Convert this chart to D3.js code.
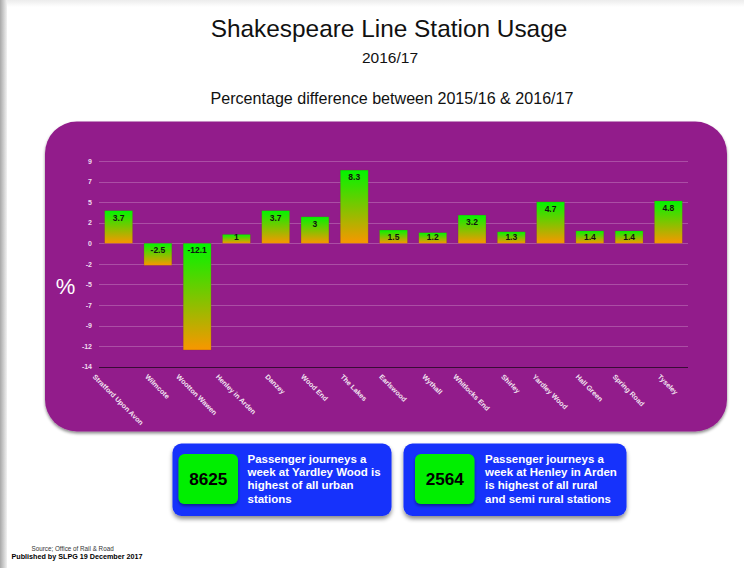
<!DOCTYPE html>
<html>
<head>
<meta charset="utf-8">
<script src="https://cdn.jsdelivr.net/npm/d3@7"></script>
<style>
  body { margin: 0; background: #fff; }
  svg { display: block; font-family: "Liberation Sans", Arial, sans-serif; }
</style>
</head>
<body>
<div class="contents"></div>
<script>
var stations = ["Stratford Upon Avon", "Wilmcote", "Wootton Wawen", "Henley in Arden",
    "Danzey", "Wood End", "The Lakes", "Earlswood", "Wythall", "Whitlocks End",
    "Shirley", "Yardley Wood", "Hall Green", "Spring Road", "Tyseley"];
var pctChange = [3.7, -2.5, -12.1, 1, 3.7, 3, 8.3, 1.5, 1.2, 3.2, 1.3, 4.7, 1.4, 1.4, 4.8];

// axis runs -14 .. 9.33 in ten even steps, the labels are rounded
var yDomain = [-14, 28 / 3];
var yTickLabels = ["-14", "-12", "-9", "-7", "-5", "-2", "0", "2", "5", "7", "9"];

var calloutNumbers = ["8625", "2564"];
var calloutLines = [
    ["Passenger journeys a", "week at Yardley Wood is", "highest of all urban", "stations"],
    ["Passenger journeys a", "week at Henley in Arden", "is highest of all rural", "and semi rural stations"]
];

var W = 744, H = 568;
var plot = { left: 99, right: 688, top: 161, bottom: 366.7 };

var svg = d3.select(".contents").append("svg")
    .attr("width", W)
    .attr("height", H);

var defs = svg.append("defs");

var barGrad = defs.append("linearGradient")
    .attr("id", "bar-grad")
    .attr("x1", 0).attr("y1", 0)
    .attr("x2", 0).attr("y2", 1);
barGrad.append("stop").attr("offset", "0%").attr("stop-color", "#00f500");
barGrad.append("stop").attr("offset", "100%").attr("stop-color", "#f99600");

var leftGrad = defs.append("linearGradient")
    .attr("id", "left-grad")
    .attr("x1", 0).attr("x2", 1).attr("y1", 0).attr("y2", 0);
leftGrad.append("stop").attr("offset", "0%").attr("stop-color", "#a8a8a8");
leftGrad.append("stop").attr("offset", "100%").attr("stop-color", "#f2f2f2");

var topGrad = defs.append("linearGradient")
    .attr("id", "top-grad")
    .attr("x1", 0).attr("x2", 0).attr("y1", 0).attr("y2", 1);
topGrad.append("stop").attr("offset", "0%").attr("stop-color", "#ececec");
topGrad.append("stop").attr("offset", "100%").attr("stop-color", "#ffffff");

function addShadow(id, dy, sd, op) {
    defs.append("filter")
        .attr("id", id)
        .attr("x", "-10%").attr("y", "-10%")
        .attr("width", "120%").attr("height", "130%")
        .append("feDropShadow")
        .attr("dx", 0).attr("dy", dy)
        .attr("stdDeviation", sd)
        .attr("flood-color", "#000")
        .attr("flood-opacity", op);
}
addShadow("panel-shadow", 2, 1.5, 0.45);
addShadow("box-shadow", 3, 2, 0.45);
addShadow("inner-shadow", 2, 1.5, 0.4);

// Page edges (slide screenshot look)
svg.append("rect")
    .attr("x", 0).attr("y", 0)
    .attr("width", W).attr("height", 7)
    .attr("fill", "url(#top-grad)");
svg.append("rect")
    .attr("x", 0).attr("y", 0)
    .attr("width", 7).attr("height", H)
    .attr("fill", "url(#left-grad)");

// Titles
svg.append("text")
    .attr("x", 389).attr("y", 37)
    .attr("text-anchor", "middle")
    .attr("font-size", 24.4)
    .attr("fill", "#111")
    .text("Shakespeare Line Station Usage");

svg.append("text")
    .attr("x", 390).attr("y", 63)
    .attr("text-anchor", "middle")
    .attr("font-size", 15.5)
    .attr("fill", "#111")
    .text("2016/17");

svg.append("text")
    .attr("x", 392).attr("y", 104)
    .attr("text-anchor", "middle")
    .attr("font-size", 16.1)
    .attr("fill", "#111")
    .text("Percentage difference between 2015/16 & 2016/17");

// Purple panel
svg.append("rect")
    .attr("x", 45).attr("y", 121.5)
    .attr("width", 682).attr("height", 310)
    .attr("rx", 32).attr("ry", 32)
    .attr("fill", "#921e8b")
    .attr("filter", "url(#panel-shadow)");

var x = d3.scaleBand()
    .domain(stations)
    .range([plot.left, plot.right])
    .paddingInner(0.29)
    .paddingOuter(0.145);

var y = d3.scaleLinear()
    .domain(yDomain)
    .range([plot.bottom, plot.top]);

var yTicks = yTickLabels.map(function(d, i) {
    return yDomain[0] + i * (yDomain[1] - yDomain[0]) / (yTickLabels.length - 1);
});

// Gridlines
svg.append("g")
    .attr("class", "grid")
    .selectAll("line")
    .data(yTicks.slice(1))
    .enter().append("line")
    .attr("x1", plot.left).attr("x2", plot.right)
    .attr("y1", function(d) { return Math.round(y(d)) + 0.5; })
    .attr("y2", function(d) { return Math.round(y(d)) + 0.5; })
    .attr("stroke", "#ab4ea5")
    .attr("stroke-width", 1);

// Y axis
var yAxis = d3.axisLeft(y)
    .tickValues(yTicks)
    .tickSize(0)
    .tickPadding(7)
    .tickFormat(function(d, i) { return yTickLabels[i]; });

var yg = svg.append("g")
    .attr("class", "y axis")
    .attr("transform", "translate(" + plot.left + ",0)")
    .call(yAxis);
yg.select(".domain").remove();
yg.selectAll("text")
    .attr("font-size", 7)
    .attr("font-weight", "bold")
    .attr("fill", "#f0dcef");

svg.append("text")
    .attr("x", 65.5).attr("y", 293.5)
    .attr("text-anchor", "middle")
    .attr("font-size", 22)
    .attr("fill", "#fff")
    .text("%");

// Bars
var bars = svg.append("g").attr("class", "bars");
bars.selectAll("rect")
    .data(pctChange)
    .enter().append("rect")
    .attr("x", function(d, i) { return x(stations[i]); })
    .attr("width", x.bandwidth())
    .attr("y", function(d) { return y(Math.max(0, d)); })
    .attr("height", function(d) { return Math.abs(y(d) - y(0)); })
    .attr("fill", "url(#bar-grad)")
    .attr("stroke", "rgba(120,60,40,0.35)")
    .attr("stroke-width", 0.6);

bars.selectAll("text")
    .data(pctChange)
    .enter().append("text")
    .attr("x", function(d, i) { return x(stations[i]) + x.bandwidth() / 2; })
    .attr("y", function(d) {
        if (d < 0) return y(0) + 9.5;
        return Math.min(y(d) + 10, y(0) - 3.5);
    })
    .attr("text-anchor", "middle")
    .attr("font-size", 8.5)
    .attr("font-weight", "bold")
    .attr("fill", "#111")
    .text(function(d) { return String(d); });

// X axis line at the bottom
svg.append("line")
    .attr("x1", plot.left).attr("x2", plot.right)
    .attr("y1", Math.round(y(yDomain[0])) + 0.5)
    .attr("y2", Math.round(y(yDomain[0])) + 0.5)
    .attr("stroke", "#3a0b36")
    .attr("stroke-width", 1.2);

// Rotated station names, turned round their centre
var xl = svg.append("g").attr("class", "x labels");
xl.selectAll("text")
    .data(stations)
    .enter().append("text")
    .attr("text-anchor", "middle")
    .attr("dy", "0.35em")
    .attr("font-size", 7)
    .attr("font-weight", "bold")
    .attr("fill", "#f3e6f2")
    .text(function(d) { return d; })
    .attr("transform", function(d) {
        var len = this.getComputedTextLength();
        var cx = x(d) + x.bandwidth() / 2 - 0.5;
        var cy = 374 + len * Math.SQRT1_2 / 2 + 1.5;
        return "translate(" + cx + "," + cy + ") rotate(45)";
    });

// Callout boxes
var callouts = [
    { x: 172.5, w: 219, gx: 178.5, tx: 247.5 },
    { x: 403.5, w: 223, gx: 415, tx: 485 }
];

callouts.forEach(function(c, i) {
    var g = svg.append("g").attr("class", "callout");
    g.append("rect")
        .attr("x", c.x).attr("y", 443.5)
        .attr("width", c.w).attr("height", 72.5)
        .attr("rx", 9).attr("ry", 9)
        .attr("fill", "#1630fb")
        .attr("filter", "url(#box-shadow)");
    g.append("rect")
        .attr("x", c.gx).attr("y", 454)
        .attr("width", 59.5).attr("height", 50)
        .attr("rx", 6).attr("ry", 6)
        .attr("fill", "#00ef00")
        .attr("filter", "url(#inner-shadow)");
    g.append("text")
        .attr("x", c.gx + 29.75).attr("y", 485)
        .attr("text-anchor", "middle")
        .attr("font-size", 17.2)
        .attr("font-weight", "bold")
        .attr("fill", "#000")
        .text(calloutNumbers[i]);
    g.selectAll("text.line")
        .data(calloutLines[i])
        .enter().append("text")
        .attr("class", "line")
        .attr("x", c.tx)
        .attr("y", function(d, j) { return 462.5 + j * 13.4; })
        .attr("font-size", 11.5)
        .attr("font-weight", "bold")
        .attr("fill", "#fff")
        .text(function(d) { return d; });
});

// Footer
svg.append("text")
    .attr("x", 31.5).attr("y", 550.5)
    .attr("font-size", 6.3)
    .attr("fill", "#333")
    .text("Source; Office of Rail & Road");

svg.append("text")
    .attr("x", 11.5).attr("y", 558.5)
    .attr("font-size", 7.2)
    .attr("font-weight", "bold")
    .attr("fill", "#000")
    .text("Published by SLPG 19 December 2017");
</script>
</body>
</html>
